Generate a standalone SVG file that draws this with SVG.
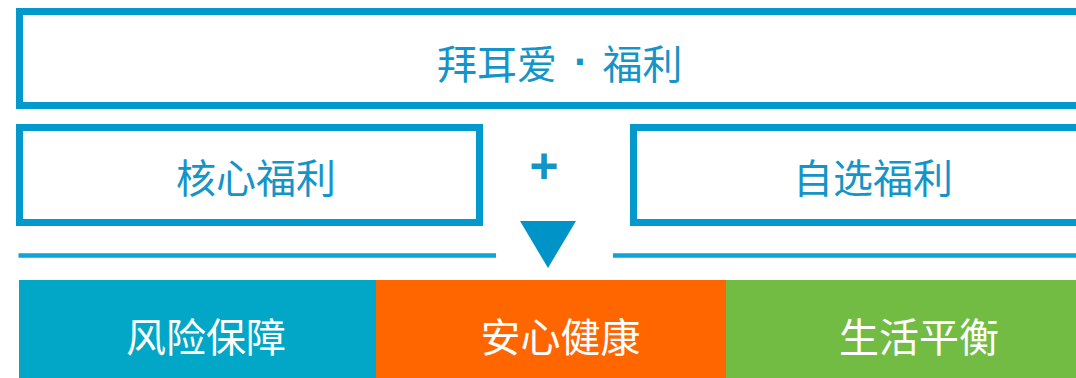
<svg xmlns="http://www.w3.org/2000/svg" width="1076" height="378" viewBox="0 0 1076 378">
<style>
.frame{fill:#ffffff;stroke:#0399cd;stroke-width:7}
.t{font-family:"Noto Sans CJK SC","Noto Sans",sans-serif;font-size:40px;text-anchor:middle}
.tb{fill:#1495c9}
.tw{fill:#ffffff}
.line{stroke:#0ea3d9;stroke-width:4.5;fill:none}
</style>
<rect width="1076" height="378" fill="#ffffff"/>
<g id="title">
<rect class="frame" x="19.5" y="11.5" width="1080" height="94"/>
<text class="t tb" y="78.5"><tspan x="497">拜耳爱</tspan><tspan x="581" y="76" font-family="Liberation Sans, Arial, sans-serif" font-size="42" font-weight="bold">·</tspan><tspan x="642.5" y="78.5">福利</tspan></text>
</g>
<g id="core">
<rect class="frame" x="19.5" y="127.5" width="460" height="95"/>
<text class="t tb" x="256" y="192.5">核心福利</text>
</g>
<g id="plus">
<text x="544" y="182.5" font-family="Liberation Sans, Arial, sans-serif" font-size="50" font-weight="bold" fill="#1495c9" text-anchor="middle">+</text>
</g>
<g id="optional">
<rect class="frame" x="633.5" y="127.5" width="500" height="95"/>
<text class="t tb" x="873" y="192.5">自选福利</text>
</g>
<g id="connectors">
<line class="line" x1="18.5" y1="255.5" x2="496" y2="255.5"/>
<line class="line" x1="613" y1="255.5" x2="1076" y2="255.5"/>
<polygon points="520,221 576,221 548,268" fill="#0093c8"/>
</g>
<g id="risk">
<rect x="19" y="280" width="357" height="98" fill="#02a7c7"/>
<text class="t tw" x="206" y="351.5">风险保障</text>
</g>
<g id="health">
<rect x="376" y="280" width="350" height="98" fill="#ff6600"/>
<text class="t tw" x="560.5" y="351.5">安心健康</text>
</g>
<g id="life">
<rect x="726" y="280" width="350" height="98" fill="#72bc44"/>
<text class="t tw" x="919" y="351.5">生活平衡</text>
</g>
</svg>
